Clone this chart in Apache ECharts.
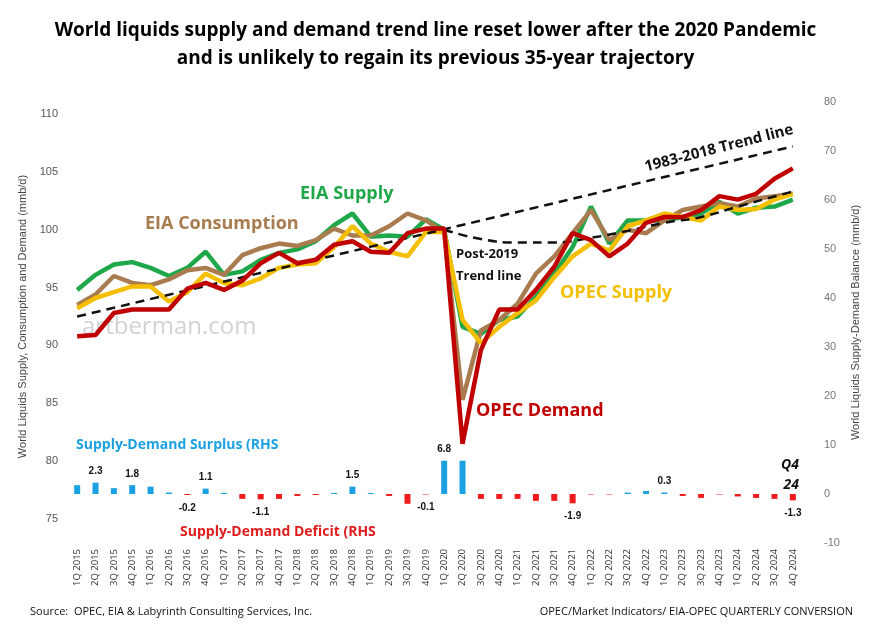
<!DOCTYPE html>
<html><head><meta charset="utf-8">
<script src="https://cdn.jsdelivr.net/npm/echarts@6/dist/echarts.min.js"></script>
<style>html,body{margin:0;padding:0;background:#fff}#c{width:871px;height:634px}</style>
</head><body><div id="c"></div>
<script>
const categories = [];
const years = [2015,2016,2017,2018,2019,2020,2021,2022,2023,2024];
years.forEach(y => { for (let q = 1; q <= 4; q++) categories.push(q + 'Q ' + y); });

const eiaSupply = [94.8,96.1,97.0,97.2,96.7,96.0,96.7,98.1,96.1,96.4,97.4,98.0,98.3,99.0,100.4,101.4,99.4,99.5,99.4,100.9,
  100.0,91.6,91.0,92.2,92.5,94.2,96.2,98.5,102.0,98.8,100.8,100.8,100.8,101.1,101.4,102.4,101.4,101.9,102.0,102.6];
const eiaConsumption = [93.5,94.4,96.0,95.4,95.2,95.7,96.5,96.7,96.1,97.8,98.4,98.8,98.6,99.1,100.1,99.5,99.5,100.3,101.4,100.8,
  99.8,85.3,91.3,92.2,93.6,96.2,97.7,99.7,101.7,99.1,100.0,99.7,100.8,101.7,102.0,102.3,102.0,102.7,102.9,103.1];
const opecSupply = [93.2,94.1,94.6,95.1,95.1,93.8,94.6,96.2,95.4,95.2,95.8,96.7,97.0,97.1,98.5,100.3,98.8,98.1,97.7,99.8,
  99.8,92.2,90.2,91.6,92.8,93.9,95.9,97.7,98.8,98.2,100.3,100.8,101.4,101.1,100.8,102.0,101.7,101.8,102.6,103.1];
const opecDemand = [90.8,90.9,92.8,93.1,93.1,93.1,94.9,95.4,94.8,95.6,97.1,98.0,97.1,97.4,98.7,99.0,98.1,98.0,99.7,100.1,
  100.1,81.5,89.6,93.1,93.1,94.8,96.8,99.7,99.1,97.7,98.8,100.6,101.1,101.1,101.7,102.9,102.6,103.1,104.4,105.3];
const balance = [1.8,2.3,1.2,1.8,1.5,0.3,-0.2,1.1,0.2,-1.0,-1.1,-1.0,-0.4,-0.2,0.2,1.5,0.2,-0.4,-2.0,-0.1,
  6.8,6.8,-1.0,-1.0,-1.0,-1.4,-1.4,-1.9,-0.1,-0.1,0.3,0.6,0.3,-0.4,-0.8,-0.1,-0.5,-0.8,-1.0,-1.3];
const balanceLabels = ['','2.3','','1.8','','','-0.2','1.1','','','-1.1','','','','','1.5','','','','-0.1',
  '6.8','','','','','','','-1.9','','','','','0.3','','','','','','','-1.3'];
const trend1983 = [[0,92.5],[39,107.2]];
const trendPost2019 = [[20,100.0],[22,99.2],[24,98.9],[26,98.9],[28,99.3],[30,99.9],[32,100.6],[34,101.1],[36,102.0],[39,103.3]];

const chart = echarts.init(document.getElementById('c'));
const L = 68, R = 69;
const lineS = (name, data, color, z) => ({name, type:'line', data, xAxisIndex:0, yAxisIndex:0, symbol:'none',
  lineStyle:{color, width:4.5}, itemStyle:{color}, z});
const txt = (left, top, text, color, size, extra) => Object.assign({type:'text', left, top,
  style:Object.assign({text, fill:color, font:'bold '+size+'px "Open Sans", sans-serif'}, extra||{})});
chart.setOption({
  animation:false,
  grid:[{left:L, right:R, top:114, bottom:115}, {left:L, right:R, top:102, bottom:91}],
  xAxis:[
    {type:'category', gridIndex:0, data:categories, boundaryGap:true,
     axisLine:{show:false}, axisTick:{show:false},
     axisLabel:{rotate:90, interval:0, fontSize:9.5, color:'#333', margin:30, fontFamily:'"Open Sans", sans-serif'}},
    {type:'category', gridIndex:1, data:categories, boundaryGap:true, show:false}
  ],
  yAxis:[
    {type:'value', gridIndex:0, min:75, max:110, interval:5, splitLine:{show:false},
     axisLine:{show:false}, axisTick:{show:false},
     axisLabel:{color:'#555', fontSize:11, margin:10},
     name:'World Liquids Supply, Consumption and Demand (mmb/d)', nameLocation:'middle', nameGap:36,
     nameTextStyle:{color:'#444', fontSize:11}},
    {type:'value', gridIndex:1, position:'right', min:-10, max:80, interval:10, splitLine:{show:false},
     axisLine:{show:false}, axisTick:{show:false},
     axisLabel:{color:'#777', fontSize:11, margin:22},
     name:'World Liquids Supply-Demand Balance (mmb/d)', nameLocation:'middle', nameGap:48, nameRotate:90,
     nameTextStyle:{color:'#444', fontSize:11}}
  ],
  series:[
    {name:'Balance', type:'bar', xAxisIndex:1, yAxisIndex:1, barWidth:6,
     data:balance.map((v,i)=>({value:v, itemStyle:{color: v>=0 ? '#1ba1e2' : '#ee1c1c'},
       label:{show:!!balanceLabels[i], formatter:balanceLabels[i], position: v>=0?'top':'bottom',
         distance: v>=0?6:8, fontSize:10, fontWeight:'bold', color:'#111'}})), z:1},
    {name:'1983-2018 Trend', type:'line', data:trend1983, xAxisIndex:0, yAxisIndex:0, symbol:'none',
     lineStyle:{color:'#111', width:2.5, type:[9,6]}, z:5},
    {name:'Post-2019 Trend', type:'line', data:trendPost2019, smooth:true, xAxisIndex:0, yAxisIndex:0, symbol:'none',
     lineStyle:{color:'#111', width:2.5, type:[9,6]}, z:5},
    lineS('EIA Supply', eiaSupply, '#1fa84a', 2),
    lineS('EIA Consumption', eiaConsumption, '#a97c50', 3),
    lineS('OPEC Supply', opecSupply, '#f5bf00', 4),
    lineS('OPEC Demand', opecDemand, '#c00000', 6)
  ],
  graphic:[
    {type:'text', left:'center', top:17, style:{text:'World liquids supply and demand trend line reset lower after the 2020 Pandemic\nand is unlikely to regain its previous 35-year trajectory',
      fill:'#000', font:'bold 19px "Open Sans", sans-serif', textAlign:'center', lineHeight:28}},
    txt(82, 315, 'artberman.com', 'rgba(180,180,180,0.6)', 22, {font:'24px "Open Sans", sans-serif'}),
    txt(300, 185, 'EIA Supply', '#1fa84a', 18),
    txt(145, 215, 'EIA Consumption', '#a97c50', 18),
    txt(560, 284, 'OPEC Supply', '#f5bf00', 18),
    txt(476, 402, 'OPEC Demand', '#c00000', 18),
    txt(456, 243, 'Post-2019\nTrend line', '#111', 13, {lineHeight:22}),
    {type:'text', x:643, y:160, rotation:0.25, style:{text:'1983-2018 Trend line', fill:'#111', font:'bold 15px "Open Sans", sans-serif'}},
    txt(76, 438, 'Supply-Demand Surplus (RHS', '#1ba1e2', 14),
    txt(180, 525, 'Supply-Demand Deficit (RHS', '#e01b1b', 14),
    txt(781, 455, 'Q4\n24', '#111', 14, {font:'italic bold 14px "Open Sans", sans-serif', lineHeight:20, textAlign:'right'}),
    txt(30, 606, 'Source:  OPEC, EIA & Labyrinth Consulting Services, Inc.', '#111', 11, {font:'11px "Open Sans", sans-serif'}),
    {type:'text', right:18, top:606, style:{text:'OPEC/Market Indicators/ EIA-OPEC QUARTERLY CONVERSION', fill:'#111', font:'11px "Open Sans", sans-serif'}}
  ]
});
</script></body></html>
